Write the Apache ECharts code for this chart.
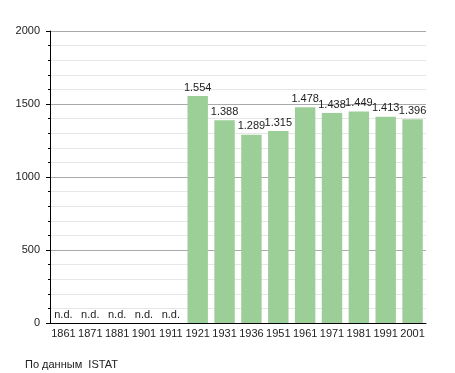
<!DOCTYPE html>
<html><head><meta charset="utf-8">
<script src="https://cdn.jsdelivr.net/npm/echarts@6/dist/echarts.min.js"></script>
<style>html,body{margin:0;padding:0;background:#fff}#c{width:455px;height:373px}</style>
</head><body><div id="c"></div>
<script>
const years = ['1861','1871','1881','1901','1911','1921','1931','1936','1951','1961','1971','1981','1991','2001'];
const population = [null,null,null,null,null,1554,1388,1289,1315,1478,1438,1449,1413,1396];
const yTicks = [0,500,1000,1500,2000];
const sourceNote = 'По данным  ISTAT';

const fmt = v => v >= 1000 ? Math.floor(v/1000) + '.' + String(v%1000).padStart(3,'0') : String(v);
const font = 'Liberation Sans, Arial, sans-serif';

const chart = echarts.init(document.getElementById('c'), null, {renderer:'canvas'});
chart.setOption({
  animation:false,
  grid:{left:50,right:29,top:31,bottom:50},
  title:{text:sourceNote,left:20,top:354,textStyle:{fontFamily:font,fontSize:11,fontWeight:'normal',color:'#222'}},
  xAxis:{type:'category',data:years,
    axisLine:{lineStyle:{color:'#000',width:1}},
    axisTick:{show:false},
    axisLabel:{fontFamily:font,fontSize:11,color:'#222',margin:5,interval:0}},
  yAxis:{type:'value',min:yTicks[0],max:yTicks[yTicks.length-1],interval:500,
    axisLine:{show:true,lineStyle:{color:'#000'}},
    axisTick:{show:true,length:4,lineStyle:{color:'#000'}},
    minorTick:{show:true,splitNumber:5,length:2,lineStyle:{color:'#000'}},
    splitLine:{lineStyle:{color:'#aaa'}},
    minorSplitLine:{show:true,lineStyle:{color:'#e6e6e6'}},
    axisLabel:{fontFamily:font,fontSize:11,color:'#222',margin:10,formatter:v => String(v)}},
  series:[{type:'bar',barCategoryGap:'24%',
    data:population.map(v => v === null ? 0 : v),
    itemStyle:{color:'#9bcf97'},
    label:{show:true,position:'top',distance:3,fontFamily:font,fontSize:11,color:'#222',
      formatter:p => population[p.dataIndex] === null ? 'n.d.' : fmt(p.value)}}]
});
</script></body></html>
